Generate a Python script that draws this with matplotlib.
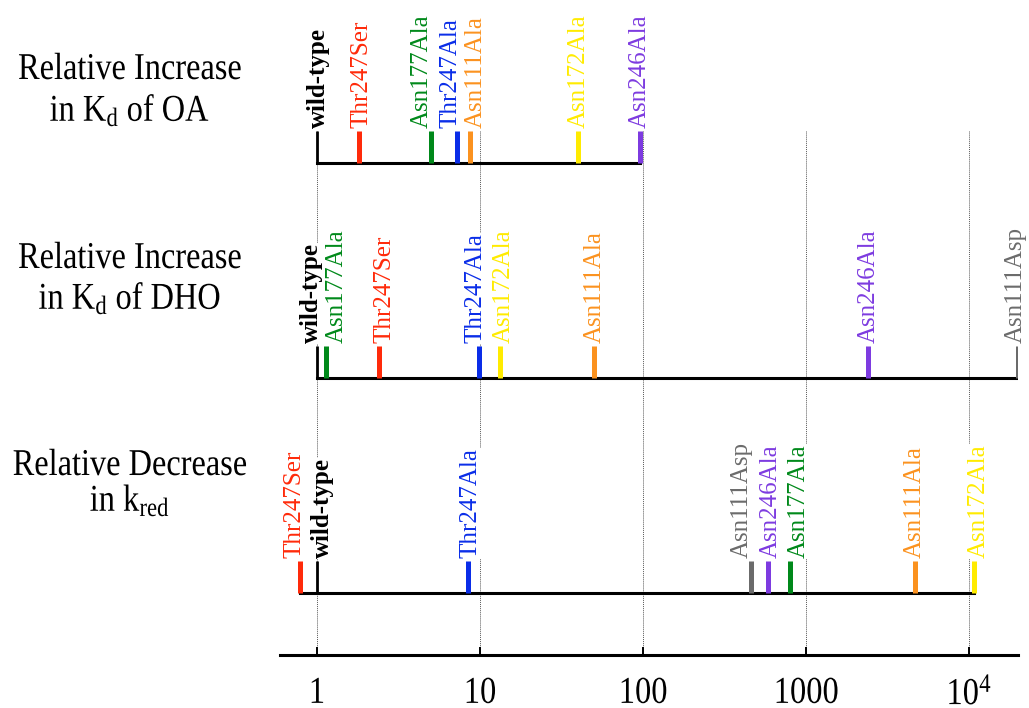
import matplotlib
matplotlib.use("Agg")
import matplotlib.pyplot as plt
from matplotlib.patheffects import AbstractPathEffect
from matplotlib.transforms import Affine2D, offset_copy
from matplotlib.ticker import NullLocator

plt.rcParams["font.family"] = ["Liberation Serif", "DejaVu Serif"]
plt.rcParams["mathtext.fontset"] = "custom"
plt.rcParams["mathtext.rm"] = "Liberation Serif"
plt.rcParams["mathtext.it"] = "Liberation Serif:italic"
plt.rcParams["mathtext.bf"] = "Liberation Serif:bold"

# Relative changes for each mutant (wild-type = 1)
oa_names = ["wild-type", "Thr247Ser", "Asn177Ala", "Thr247Ala", "Asn111Ala",
            "Asn172Ala", "Asn246Ala"]
oa_vals = [1.0, 1.8, 5.0, 7.2, 8.7, 40.0, 95.0]

dho_names = ["wild-type", "Asn177Ala", "Thr247Ser", "Thr247Ala", "Asn172Ala",
             "Asn111Ala", "Asn246Ala", "Asn111Asp"]
dho_vals = [1.0, 1.13, 2.4, 9.8, 13.3, 50.0, 2400.0, 19800.0]

kred_names = ["Thr247Ser", "wild-type", "Thr247Ala", "Asn111Asp", "Asn246Ala",
              "Asn177Ala", "Asn111Ala", "Asn172Ala"]
kred_vals = [0.79, 1.0, 8.4, 460.0, 580.0, 800.0, 4650.0, 10600.0]

row_titles = [("Relative Increase", r"in K$_{\mathrm{d}}$ of OA"),
              ("Relative Increase", r"in K$_{\mathrm{d}}$ of DHO"),
              ("Relative Decrease", r"in k$_{\mathrm{red}}$")]

tick_vals = [1, 10, 100, 1000, 10000]
tick_labels = ["1", "10", "100", "1000", r"10$^{4}$"]

colors = {
    "wild-type": "black",
    "Thr247Ser": "#ff2a0a",
    "Asn177Ala": "#00891a",
    "Thr247Ala": "#0a2de8",
    "Asn111Ala": "#fb921f",
    "Asn172Ala": "#ffeb00",
    "Asn246Ala": "#7d3be0",
    "Asn111Asp": "#6b6b6b",
}

# sideways nudges (pixels) that keep crowded labels apart
label_shift = [
    [1, 3, -9, -6, 6, 0, 0],
    [-6, 11, 5, -3, 3, 1, 0, -2],
    [-6, 5, 3, -10, 3, 8, 0, 5],
]


class VStretch(AbstractPathEffect):
    """Draw text taller than its natural shape (vertical scale sy)."""

    def __init__(self, sy, text=None):
        super().__init__()
        self.sy = sy
        self.text = text

    def draw_path(self, renderer, gc, tpath, affine, rgbFace=None):
        if self.text is not None:
            y0 = self.text.get_transform().transform(
                self.text.get_unitless_position())[1]
        else:
            y0 = tpath.get_extents(affine).y1
        tr = affine + Affine2D().translate(0, -y0).scale(1, self.sy).translate(0, y0)
        renderer.draw_path(gc, tpath, tr, rgbFace)


W, H = 1029, 708
fig = plt.figure(figsize=(W / 100, H / 100), dpi=100)
ax = fig.add_axes([280 / W, (H - 655) / H, (1018 - 280) / W, 655 / H])
ax.set_xscale("log")
px_per_decade = 163.1
ax.set_xlim(10 ** ((280 - 317) / px_per_decade), 10 ** ((1018 - 317) / px_per_decade))
ax.set_ylim(655, 0)

for s in ["top", "left", "right"]:
    ax.spines[s].set_visible(False)
ax.spines["bottom"].set_linewidth(2.2)
ax.set_yticks([])
ax.set_xticks(tick_vals)
ticklabels = ax.set_xticklabels(tick_labels, fontsize=23.4)
for lbl in ticklabels:
    lbl.set_path_effects([VStretch(1.17)])
ax.xaxis.set_minor_locator(NullLocator())
ax.tick_params(axis="x", direction="in", length=6, width=1.4, pad=16)

# thin dotted guides at each decade
ax.vlines(tick_vals, 131, 655, colors="0.35", linestyles=(0, (1, 1)),
          linewidth=0.7, zorder=0)

baselines = [163.3, 378.3, 593.3]
bar_h = 32
rows = [(oa_names, oa_vals), (dho_names, dho_vals), (kred_names, kred_vals)]

for (names, vals), yb, shifts in zip(rows, baselines, label_shift):
    ax.hlines(yb, min(vals), max(vals), colors="black", linewidth=2.2,
              zorder=2, capstyle="projecting")
    for name, v, dx in zip(names, vals, shifts):
        wt = name == "wild-type"
        ax.vlines(v, yb - bar_h, yb, colors=colors[name],
                  linewidth=2.0 if wt else 3.6, zorder=3 if wt else 4)
        ax.text(v, yb - bar_h - 3, name, rotation=90, ha="center", va="bottom",
                fontsize=18, color=colors[name],
                fontweight="bold" if wt else "normal",
                transform=offset_copy(ax.transData, fig=fig, x=dx, y=0, units="dots"),
                bbox=dict(facecolor="white", edgecolor="none", pad=0.5),
                zorder=5, clip_on=False)

title_base = [(79, 121), (268, 309), (475, 511)]
for (l1, l2), (b1, b2) in zip(row_titles, title_base):
    for txt, b in ((l1, b1), (l2, b2)):
        t = fig.text(130 / W, 1 - b / H, txt, ha="center", va="baseline",
                     fontsize=23.3)
        t.set_path_effects([VStretch(1.17, t)])

fig.savefig("out.png", dpi=100)
